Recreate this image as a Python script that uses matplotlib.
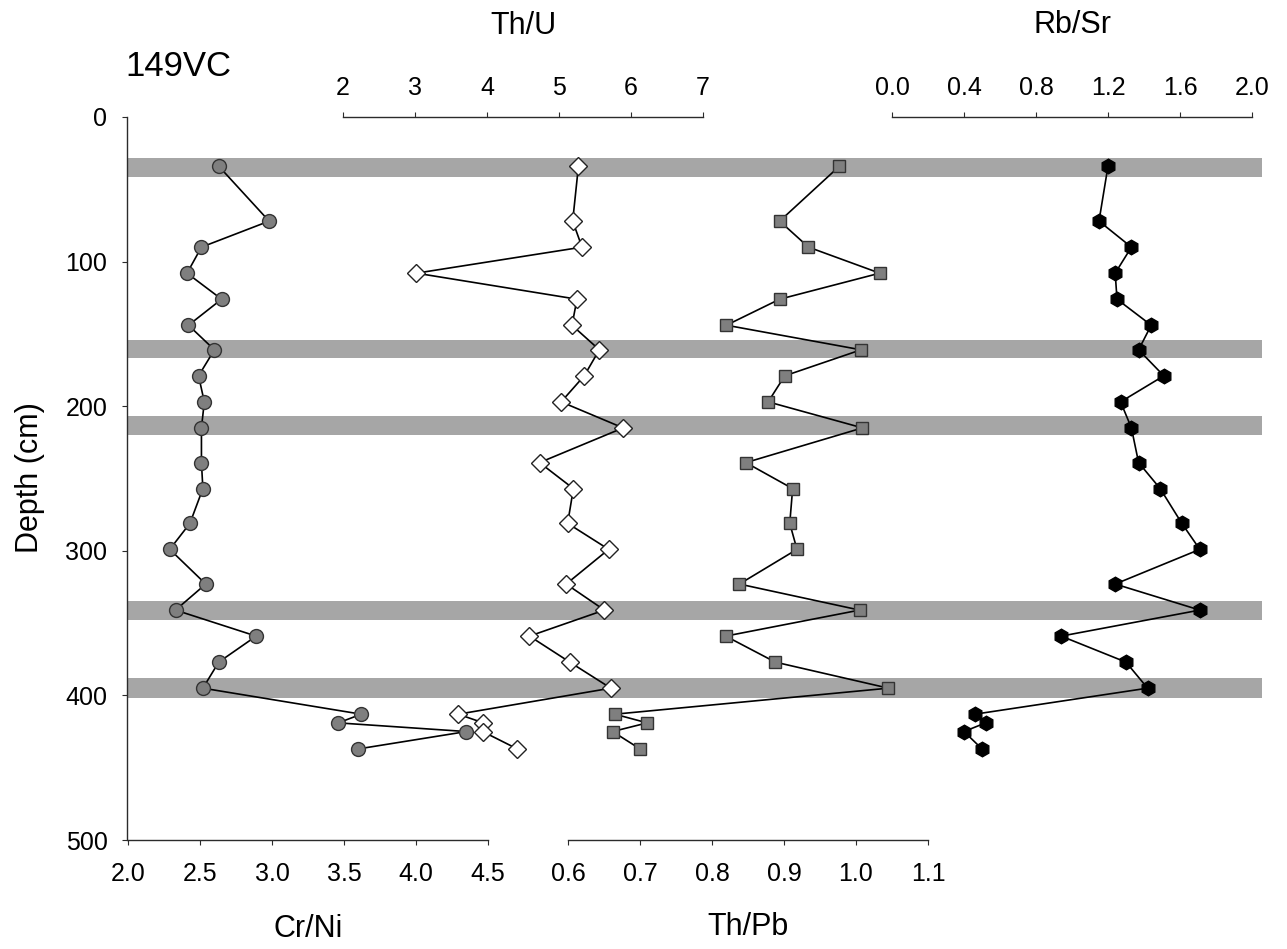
import matplotlib
matplotlib.use("Agg")
import matplotlib.pyplot as plt

plt.rcParams['font.family'] = ['Liberation Sans', 'DejaVu Sans']

# ---- data ----
depth = [34, 72, 90, 108, 126, 144, 161, 179, 197, 215, 239, 257, 281, 299,
         323, 341, 359, 377, 395, 413, 419, 425, 437]
cr_ni = [2.63, 2.98, 2.51, 2.41, 2.65, 2.42, 2.60, 2.49, 2.53, 2.51, 2.51, 2.52,
         2.43, 2.29, 2.54, 2.33, 2.89, 2.63, 2.52, 3.62, 3.46, 4.35, 3.60]
th_u = [5.27, 5.19, 5.32, 3.02, 5.25, 5.18, 5.56, 5.35, 5.03, 5.89, 4.73, 5.20,
        5.12, 5.69, 5.10, 5.63, 4.59, 5.15, 5.72, 3.60, 3.95, 3.94, 4.42]
th_pb = [0.977, 0.894, 0.934, 1.033, 0.894, 0.820, 1.007, 0.901, 0.878, 1.009,
         0.847, 0.912, 0.908, 0.918, 0.838, 1.005, 0.819, 0.888, 1.045,
         0.665, 0.710, 0.662, 0.700]
rb_sr = [1.20, 1.15, 1.33, 1.24, 1.25, 1.44, 1.37, 1.51, 1.27, 1.33, 1.37, 1.49,
         1.61, 1.71, 1.24, 1.71, 0.94, 1.30, 1.42, 0.46, 0.52, 0.40, 0.50]

bands = [(28.5, 41.5), (154, 167), (207, 220), (335, 348), (388, 402)]

depth_ticks = [0, 100, 200, 300, 400, 500]
crni_ticks = [2.0, 2.5, 3.0, 3.5, 4.0, 4.5]
thu_ticks = [2, 3, 4, 5, 6, 7]
thpb_ticks = [0.6, 0.7, 0.8, 0.9, 1.0, 1.1]
rbsr_ticks = [0.0, 0.4, 0.8, 1.2, 1.6, 2.0]

# ---- layout helpers (pixels) ----
W, H = 1287, 949
fig = plt.figure(figsize=(W / 100, H / 100), dpi=100)
fig.patch.set_facecolor('white')

Y_TOP, Y_BOT = 117, 840


def rect(x0, x1):
    return [x0 / W, 1 - Y_BOT / H, (x1 - x0) / W, (Y_BOT - Y_TOP) / H]


SPC = '#2b2b2b'
TICK_FS = 18
LAB_FS = 22

# main axes: depth axis and bands
ax = fig.add_axes(rect(127, 1262))
ax.set_ylim(500, 0)
ax.set_xlim(0, 1)
for s in ['top', 'right', 'bottom']:
    ax.spines[s].set_visible(False)
ax.spines['left'].set_color(SPC)
ax.spines['left'].set_linewidth(1.0)
ax.set_xticks([])
ax.set_yticks(depth_ticks)
ax.tick_params(axis='y', direction='out', length=3.6, width=0.8, color=SPC,
               labelsize=TICK_FS, pad=10.5)
for b0, b1 in bands:
    ax.axhspan(b0, b1, xmin=0, xmax=1, color='#a6a6a6', lw=0, zorder=1)
ax.patch.set_alpha(0)


def series_axes(x0, x1, xlim, ticks, fmt, side):
    a = fig.add_axes(rect(x0, x1))
    a.patch.set_alpha(0)
    a.set_ylim(500, 0)
    a.set_xlim(*xlim)
    a.set_yticks([])
    for s in ['top', 'right', 'bottom', 'left']:
        a.spines[s].set_visible(False)
    a.spines[side].set_visible(True)
    a.spines[side].set_color(SPC)
    a.spines[side].set_linewidth(1.0)
    a.set_xticks(ticks)
    a.set_xticklabels([fmt.format(t) for t in ticks])
    if side == 'top':
        a.xaxis.tick_top()
        a.tick_params(axis='x', direction='out', length=3.6, width=0.8,
                      color=SPC, labelsize=TICK_FS, pad=8.5)
    else:
        a.tick_params(axis='x', direction='out', length=3.6, width=0.8,
                      color=SPC, labelsize=TICK_FS, pad=12.5)
    return a


a1 = series_axes(128, 488, (2.0, 4.5), crni_ticks, '{:.1f}', 'bottom')
a1.plot(cr_ni, depth, '-', color='black', lw=1.2, marker='o', ms=10,
        mfc='#7f7f7f', mec='#333333', mew=1.0, clip_on=False, zorder=3)

a2 = series_axes(343, 703, (2, 7), thu_ticks, '{:d}', 'top')
a2.plot(th_u, depth, '-', color='black', lw=1.2, marker='D', ms=9,
        mfc='white', mec='#222222', mew=1.0, clip_on=False, zorder=3)

a3 = series_axes(568, 928, (0.6, 1.1), thpb_ticks, '{:.1f}', 'bottom')
a3.plot(th_pb, depth, '-', color='black', lw=1.2, marker='s', ms=8.4,
        mfc='#7f7f7f', mec='#333333', mew=1.0, clip_on=False, zorder=3)

a4 = series_axes(892, 1252, (0.0, 2.0), rbsr_ticks, '{:.1f}', 'top')
a4.plot(rb_sr, depth, '-', color='black', lw=1.2, marker='h', ms=10.5,
        mfc='black', mec='black', mew=1.0, clip_on=False, zorder=3)


def ftext(px, py, s, **kw):
    fig.text(px / W, 1 - py / H, s, **kw)


ftext(523, 26, 'Th/U', ha='center', va='center', fontsize=LAB_FS)
ftext(1072, 25, 'Rb/Sr', ha='center', va='center', fontsize=LAB_FS)
ftext(308, 929, 'Cr/Ni', ha='center', va='center', fontsize=LAB_FS)
ftext(748, 927, 'Th/Pb', ha='center', va='center', fontsize=LAB_FS)
ftext(125, 67, '149VC', ha='left', va='center', fontsize=25)
ftext(30, 478, 'Depth (cm)', ha='center', va='center', fontsize=LAB_FS,
      rotation=90)

fig.savefig('out.png', dpi=100, facecolor='white')
